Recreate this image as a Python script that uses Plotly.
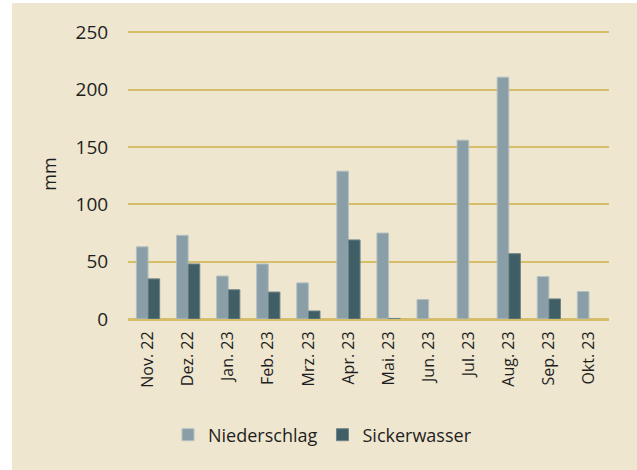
import plotly.graph_objects as go

months = ["Nov. 22", "Dez. 22", "Jan. 23", "Feb. 23", "Mrz. 23", "Apr. 23",
          "Mai. 23", "Jun. 23", "Jul. 23", "Aug. 23", "Sep. 23", "Okt. 23"]
niederschlag = [63, 73, 37.5, 48, 31.5, 129, 75, 17, 156, 211, 37, 24]
sickerwasser = [35, 48, 25.5, 23.5, 7, 69, 0.5, None, None, 57, 17.5, None]
y_ticks = [0, 50, 100, 150, 200, 250]

W, H = 637, 470
L, R, T, B = 128, 28, 29, 151
pw, ph = W - L - R, H - T - B

fig = go.Figure()
fig.add_trace(go.Bar(name="Niederschlag", x=months, y=niederschlag,
                     marker=dict(color="#8a9ea8", line=dict(color="#b3c0c3", width=1))))
fig.add_trace(go.Bar(name="Sickerwasser", x=months, y=sickerwasser,
                     marker=dict(color="#3f5e66", line=dict(color="#6f8488", width=1))))

font = "Open Sans, Noto Sans, sans-serif"
fig.update_layout(
    width=W, height=H,
    margin=dict(l=L, r=R, t=T, b=B, pad=0),
    paper_bgcolor="#efe6cf", plot_bgcolor="#efe6cf",
    barmode="group", bargap=0.42, bargroupgap=0,
    font=dict(family=font, color="#1e1e1e"),
    showlegend=True,
    legend=dict(orientation="h", x=(168 - L) / pw, xanchor="left",
                y=(319 - 435) / ph, yanchor="middle",
                font=dict(size=18, family=font, color="#1e1e1e"),
                itemwidth=30, tracegroupgap=0, bgcolor="rgba(0,0,0,0)"),
    xaxis=dict(tickangle=-90, tickfont=dict(size=16, family=font, color="#1e1e1e"),
               showgrid=False, showline=False, ticks="outside", ticklen=5,
               tickcolor="rgba(0,0,0,0)"),
    yaxis=dict(range=[0, 253], tickvals=y_ticks, showgrid=True,
               gridcolor="#d5bd6a", gridwidth=2, zeroline=True,
               zerolinecolor="#d5bd6a", zerolinewidth=2.5,
               tickfont=dict(size=19, family=font, color="#1e1e1e"),
               ticks="outside", ticklen=15, tickcolor="rgba(0,0,0,0)",
               title=dict(text="mm", font=dict(size=18, family=font, color="#1e1e1e"),
                          standoff=14)),
    shapes=[
        dict(type="rect", xref="paper", yref="paper", layer="above",
             x0=-L / pw - 0.01, x1=(12 - L) / pw, y0=(-B - 5) / ph, y1=(T + 5) / ph + 1,
             fillcolor="white", line=dict(width=0)),
        dict(type="rect", xref="paper", yref="paper", layer="above",
             x0=-L / pw - 0.01, x1=1 + R / pw + 0.01, y0=1 + (T - 3) / ph, y1=1 + (T + 5) / ph,
             fillcolor="white", line=dict(width=0)),
    ],
)

fig.write_html("out.html", config={"displayModeBar": False},
               post_script="document.body.style.margin='0px';")
